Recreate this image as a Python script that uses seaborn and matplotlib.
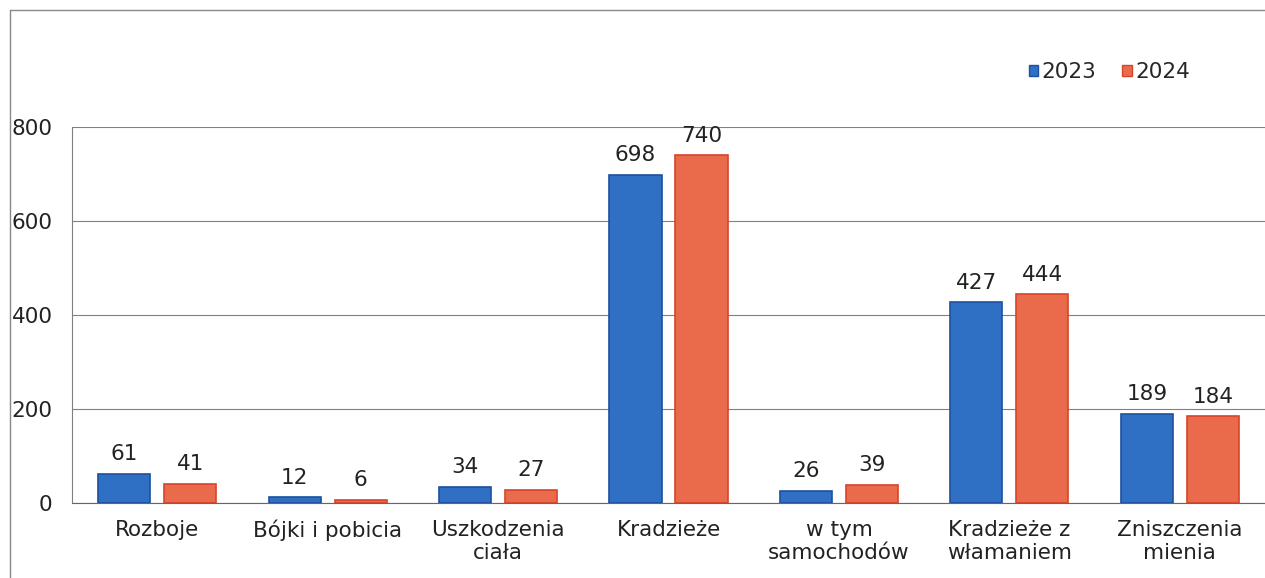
import pandas as pd
import matplotlib.pyplot as plt
import seaborn as sns
from matplotlib.patches import Patch

categories = ["Rozboje", "Bójki i pobicia", "Uszkodzenia\nciała", "Kradzieże",
              "w tym\nsamochodów", "Kradzieże z\nwłamaniem", "Zniszczenia\nmienia"]
years = ["2023", "2024"]
values_2023 = [61, 12, 34, 698, 26, 427, 189]
values_2024 = [41, 6, 27, 740, 39, 444, 184]

df = pd.DataFrame({
    "kategoria": categories * 2,
    "rok": [years[0]] * len(categories) + [years[1]] * len(categories),
    "liczba": values_2023 + values_2024,
})

sns.set_style("white")
plt.rcParams['font.family'] = ['DejaVu Sans']

colors = {"2023": "#2F6FC4", "2024": "#EA6B4B"}
edges = {"2023": "#1D50A0", "2024": "#D8442A"}
fs = 15.5

fig = plt.figure(figsize=(12.65, 5.78), dpi=100)
ax = fig.add_axes([0.057, 0.13, 0.943, 0.65])

sns.barplot(data=df, x="kategoria", y="liczba", hue="rok", palette=colors,
            saturation=1, width=0.775, gap=0.21, ax=ax, legend=False)

for cont, yr in zip(ax.containers, years):
    for bar in cont:
        bar.set_edgecolor(edges[yr])
        bar.set_linewidth(1.2)
    ax.bar_label(cont, padding=7, fontsize=fs, color="#222222")

ax.set_ylim(0, 800)
ax.set_xlim(-0.5, 6.5)
ax.set_yticks([0, 200, 400, 600, 800])
ax.yaxis.grid(True, color="#808080", linewidth=0.8)
ax.set_axisbelow(True)
ax.set_xlabel("")
ax.set_ylabel("")
ax.tick_params(axis="both", labelsize=fs, colors="#222222", length=0)
ax.tick_params(axis="y", pad=14)
ax.tick_params(axis="x", pad=12)
for s in ["top", "right"]:
    ax.spines[s].set_visible(False)
ax.spines["left"].set_color("#808080")
ax.spines["bottom"].set_color("#666666")
ax.spines["left"].set_linewidth(0.8)

# legend above the plot
handles = [Patch(facecolor=colors[y], edgecolor=edges[y], label=y) for y in years]
fig.legend(handles=handles, loc="center", bbox_to_anchor=(0.877, 0.875), ncol=2,
           frameon=False, fontsize=fs, handlelength=0.45, handleheight=0.45,
           handletextpad=0.15, columnspacing=1.2)

# scanned page border
fig.add_artist(plt.Line2D([0.008, 0.008], [0, 0.983], color="#888888", linewidth=1))
fig.add_artist(plt.Line2D([0.008, 1], [0.983, 0.983], color="#888888", linewidth=1))

fig.savefig("out.png", dpi=100)
